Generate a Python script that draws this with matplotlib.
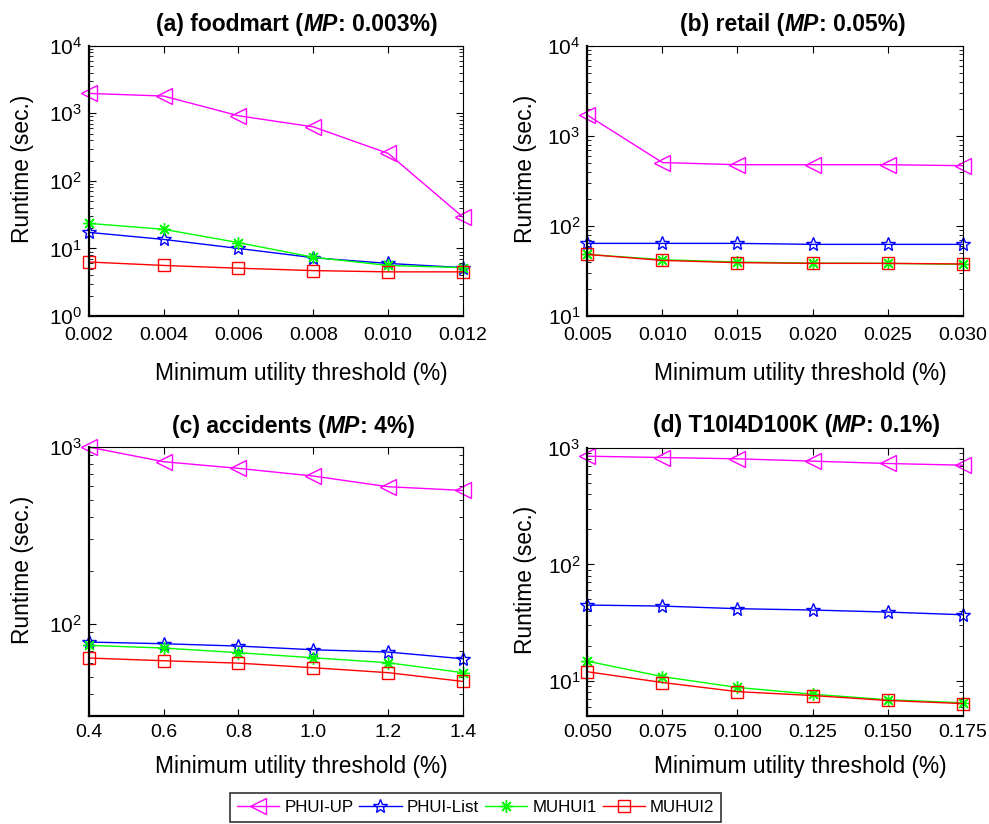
import matplotlib
matplotlib.use("Agg")
import matplotlib.pyplot as plt
from matplotlib.ticker import FixedLocator, FixedFormatter, NullFormatter, LogLocator
from matplotlib.offsetbox import TextArea, HPacker, AnchoredOffsetbox
from matplotlib.lines import Line2D

plt.rcParams['font.family'] = ['Liberation Sans', 'DejaVu Sans']
plt.rcParams['mathtext.fontset'] = 'custom'
plt.rcParams['mathtext.rm'] = 'Liberation Sans'
plt.rcParams['mathtext.default'] = 'regular'

# ---- data -------------------------------------------------------------
series_names = ["PHUI-UP", "PHUI-List", "MUHUI1", "MUHUI2"]

# (a) foodmart
x_a = [0.002, 0.004, 0.006, 0.008, 0.010, 0.012]
xlab_a = ["0.002", "0.004", "0.006", "0.008", "0.010", "0.012"]
phuiup_a = [1970, 1800, 920, 630, 255, 29]
phuilist_a = [17.3, 13.6, 10.0, 7.3, 6.0, 5.2]
muhui1_a = [23.5, 19.2, 12.2, 7.4, 5.6, 5.2]
muhui2_a = [6.3, 5.6, 5.1, 4.7, 4.5, 4.5]

# (b) retail
x_b = [0.005, 0.010, 0.015, 0.020, 0.025, 0.030]
xlab_b = ["0.005", "0.010", "0.015", "0.020", "0.025", "0.030"]
phuiup_b = [1700, 505, 478, 478, 478, 466]
phuilist_b = [64, 64, 64, 62.4, 62.4, 62.4]
muhui1_b = [48.3, 42.2, 39.7, 38.7, 38.4, 37.4]
muhui2_b = [48.3, 41.4, 39.1, 38.4, 38.4, 37.8]

# (c) accidents
x_c = [0.4, 0.6, 0.8, 1.0, 1.2, 1.4]
xlab_c = ["0.4", "0.6", "0.8", "1.0", "1.2", "1.4"]
phuiup_c = [1000, 826, 757, 685, 596, 568]
phuilist_c = [78.7, 77, 74.7, 71.2, 69.1, 63.3]
muhui1_c = [75.4, 72.8, 68.5, 64.1, 60.1, 52.8]
muhui2_c = [63.9, 61.7, 59.8, 56.3, 52.8, 47.1]

# (d) T10I4D100K
x_d = [0.050, 0.075, 0.100, 0.125, 0.150, 0.175]
xlab_d = ["0.050", "0.075", "0.100", "0.125", "0.150", "0.175"]
phuiup_d = [848, 826, 805, 769, 734, 710]
phuilist_d = [44.8, 43.9, 41.7, 40.6, 39.0, 37.0]
muhui1_d = [14.8, 10.9, 8.8, 7.7, 6.9, 6.5]
muhui2_d = [12.0, 9.7, 8.1, 7.5, 6.8, 6.4]

# ---- styles -----------------------------------------------------------
styles = [
    dict(color="#FF00FF", marker="<", ms=12, mfc="none", mew=1.0),
    dict(color="#0000FF", marker="*", ms=10, mfc="none", mew=1.0),
    dict(color="#00FF00", marker=(8, 2, 0), ms=9, mew=1.0),
    dict(color="#FF0000", marker="s", ms=8, mfc="none", mew=1.0),
]

fig = plt.figure(figsize=(9.89, 8.24), dpi=100)

panels = [
    dict(rect=[0.0897, 0.6165, 0.3785, 0.328], x=x_a, xl=xlab_a,
         ys=[phuiup_a, phuilist_a, muhui1_a, muhui2_a], ylim=(1, 1e4),
         prefix="(a) foodmart (", mp=": 0.003%)", tx=0.556, ty=1.08,
         xlx=0.5685, xly=-0.169, ylx=-0.146, yly=0.544, xpad=8),
    dict(rect=[0.5938, 0.6165, 0.3796, 0.328], x=x_b, xl=xlab_b,
         ys=[phuiup_b, phuilist_b, muhui1_b, muhui2_b], ylim=(10, 1e4),
         prefix="(b) retail (", mp=": 0.05%)", tx=0.548, ty=1.08,
         xlx=0.567, xly=-0.169, ylx=-0.135, yly=0.545, xpad=8),
    dict(rect=[0.0897, 0.131, 0.3785, 0.3265], x=x_c, xl=xlab_c,
         ys=[phuiup_c, phuilist_c, muhui1_c, muhui2_c], ylim=(30, 1000),
         prefix="(c) accidents (", mp=": 4%)", tx=0.5475, ty=1.078,
         xlx=0.569, xly=-0.145, ylx=-0.146, yly=0.544, xpad=6),
    dict(rect=[0.5938, 0.131, 0.3796, 0.3255], x=x_d, xl=xlab_d,
         ys=[phuiup_d, phuilist_d, muhui1_d, muhui2_d], ylim=(5, 1000),
         prefix="(d) T10I4D100K (", mp=": 0.1%)", tx=0.557, ty=1.082,
         xlx=0.567, xly=-0.145, ylx=-0.135, yly=0.508, xpad=6),
]

for p in panels:
    ax = fig.add_axes(p["rect"])
    for vals, st, name in zip(p["ys"], styles, series_names):
        ax.plot(p["x"], vals, lw=1.0, clip_on=False, label=name, **st)
    ax.set_yscale("log")
    ax.set_ylim(*p["ylim"])
    ax.set_xlim(p["x"][0], p["x"][-1])
    ax.xaxis.set_major_locator(FixedLocator(p["x"]))
    ax.xaxis.set_major_formatter(FixedFormatter(p["xl"]))
    ax.yaxis.set_major_locator(LogLocator(base=10, numticks=10))
    ax.yaxis.set_minor_locator(LogLocator(base=10, subs=range(2, 10), numticks=20))
    ax.yaxis.set_minor_formatter(NullFormatter())
    ax.tick_params(which="both", direction="in", top=True, right=True)
    ax.tick_params(axis="x", labelsize=14, pad=p["xpad"])
    ax.tick_params(axis="y", labelsize=15, pad=5)
    ax.tick_params(which="major", length=5, width=0.8)
    ax.tick_params(which="minor", length=3, width=0.6)
    for side in ("left", "bottom"):
        ax.spines[side].set_linewidth(1.6)
    for side in ("top", "right"):
        ax.spines[side].set_linewidth(0.8)

    ax.set_xlabel("Minimum utility threshold (%)", fontsize=16.4)
    ax.xaxis.set_label_coords(p["xlx"], p["xly"])
    ax.set_ylabel("Runtime (sec.)", fontsize=16.4)
    ax.yaxis.set_label_coords(p["ylx"], p["yly"])

    # title with bold-italic "MP"
    parts = [
        TextArea(p["prefix"], textprops=dict(fontsize=16.5, fontweight="bold")),
        TextArea("MP", textprops=dict(fontsize=16.5, fontweight="bold", fontstyle="italic")),
        TextArea(p["mp"], textprops=dict(fontsize=16.5, fontweight="bold")),
    ]
    box = HPacker(children=parts, align="baseline", pad=0, sep=0)
    anchored = AnchoredOffsetbox(loc="center", child=box, pad=0, frameon=False,
                                 bbox_to_anchor=(p["tx"], p["ty"]),
                                 bbox_transform=ax.transAxes, borderpad=0)
    ax.add_artist(anchored)

handles = [Line2D([], [], lw=1.0, **st) for st in styles]
leg = fig.legend(handles, series_names, loc="upper left",
                 bbox_to_anchor=(230 / 989, 1 - 793 / 824),
                 ncol=4, fontsize=12.2, frameon=True, fancybox=False,
                 handlelength=2.5, handletextpad=0.3, columnspacing=0.35,
                 borderpad=0.4, borderaxespad=0)
leg.get_frame().set_edgecolor("black")
leg.get_frame().set_linewidth(1.2)

fig.savefig("out.png", dpi=100)
